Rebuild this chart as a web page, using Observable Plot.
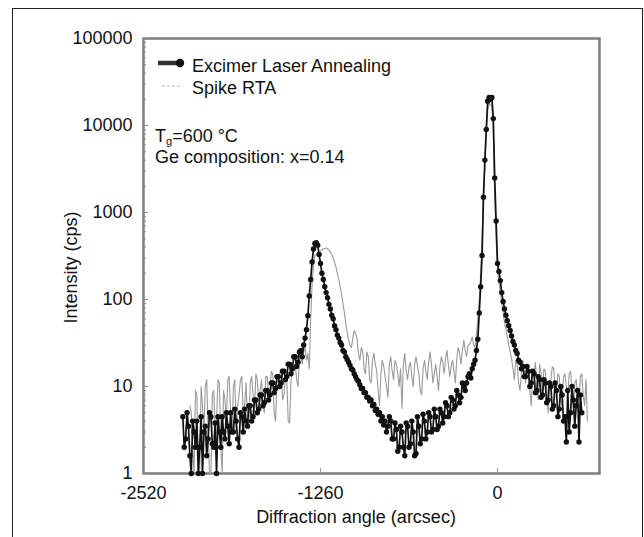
<!DOCTYPE html>
<html>
<head>
<meta charset="utf-8">
<script src="https://cdn.jsdelivr.net/npm/d3@7"></script>
<script src="https://cdn.jsdelivr.net/npm/@observablehq/plot@0.6"></script>
<style>
  html, body { margin: 0; padding: 0; background: #fff; }
  #wrap { position: relative; width: 644px; height: 537px; overflow: hidden; background: #fff; }
  #border { position: absolute; left: 12px; top: 8px; width: 629px; height: 600px;
            border: 1.5px solid #222; border-bottom: none; }
  #chart { position: absolute; left: 0; top: 0; }
</style>
</head>
<body>
<div id="wrap"><div id="border"></div><div id="chart"></div></div>
<script>
// ---- data (diffraction angle in arcsec, intensity in cps) ----
const angle = [
  -2240,-2230,-2220,-2210,-2200,-2190,-2180,-2170,-2160,-2150,-2140,-2130,-2120,-2110,-2100,-2090,-2080,-2070,-2060,-2050,
  -2040,-2030,-2020,-2010,-2000,-1990,-1980,-1970,-1960,-1950,-1940,-1930,-1920,-1910,-1900,-1890,-1880,-1870,-1860,-1850,
  -1840,-1830,-1820,-1810,-1800,-1790,-1780,-1770,-1760,-1750,-1740,-1730,-1720,-1710,-1700,-1690,-1680,-1670,-1660,-1650,
  -1640,-1630,-1620,-1610,-1600,-1590,-1580,-1570,-1560,-1550,-1540,-1530,-1520,-1510,-1500,-1490,-1480,-1470,-1460,-1450,
  -1440,-1430,-1420,-1410,-1400,-1390,-1380,-1370,-1360,-1350,-1340,-1330,-1320,-1310,-1300,-1290,-1280,-1270,-1260,-1250,
  -1240,-1230,-1220,-1210,-1200,-1190,-1180,-1170,-1160,-1150,-1140,-1130,-1120,-1110,-1100,-1090,-1080,-1070,-1060,-1050,
  -1040,-1030,-1020,-1010,-1000,-990,-980,-970,-960,-950,-940,-930,-920,-910,-900,-890,-880,-870,-860,-850,
  -840,-830,-820,-810,-800,-790,-780,-770,-760,-750,-740,-730,-720,-710,-700,-690,-680,-670,-660,-650,
  -640,-630,-620,-610,-600,-590,-580,-570,-560,-550,-540,-530,-520,-510,-500,-490,-480,-470,-460,-450,
  -440,-430,-420,-410,-400,-390,-380,-370,-360,-350,-340,-330,-320,-310,-300,-290,-280,-270,-260,-250,
  -240,-230,-220,-210,-200,-190,-180,-170,-160,-150,-140,-130,-120,-110,-100,-90,-80,-70,-60,-50,
  -40,-30,-20,-10,0,10,20,30,40,50,60,70,80,90,100,110,120,130,140,150,
  160,170,180,190,200,210,220,230,240,250,260,270,280,290,300,310,320,330,340,350,
  360,370,380,390,400,410,420,430,440,450,460,470,480,490,500,510,520,530,540,550,
  560,570,580,590,600,610,620,630,640
];
// Excimer Laser Annealing
const elaCps = [
  4.5,2,2.5,5,3.5,1.6,1,4,3,2,4,1,2,4.5,1,3,3.5,1.6,2.5,5,
  4.5,2.2,2,3.8,1,4.5,3,2,4.5,3,2.5,5,3.5,2.2,5,3,3,5.5,4,2.5,
  2,5,4.5,3,5.5,4,3.5,6,6,4,4.5,7,7,5,5.5,8,8,6,6.5,9,
  9,7,8,11,11,8.5,9.5,13,13,10,11,15,15,12,13,18,18,14,16,22,
  22,17,19,25,26,22,30,36,45,65,110,170,270,380,440,450,420,330,260,200,
  170,140,120,105,88,78,66,60,50,45,39,36,32,30,26,25,22,20.5,19,17.5,
  16,15.5,14,13,12,11.5,10.5,9.5,9.5,8.5,8.5,7.5,7.5,6.8,7,6,6.2,5.3,5.5,4.8,
  5,4,4.5,3.6,4,3,3.5,4.5,4,2.5,2.5,3.8,3.2,1.8,2,3.5,3,2,1.6,3.8,
  3.5,2,2.2,4,3,1.6,1.7,4.5,3.5,2.2,2.5,4.8,4,2.5,3,5,4.5,3,3.2,5.5,
  4.5,3.2,3.5,5.5,5,3.8,4.5,6.5,6,4.5,5,7.5,7,5.5,6,9,8,6.5,7.5,11,
  10,9,11,13,14,12.5,16,18,20,26,35,70,140,320,1500,4000,9000,19000,21000,20000,
  21000,12000,2500,800,260,210,165,120,95,78,66,57,50,44,38,33,30,26,24,20,
  19,16,17,13,13,17,15,10,11,15,14,8.5,9,13,12,7.5,8,12,11,6.5,
  7,11,10,5.5,6,11,9,4.5,5.5,10,8,4,4.5,2.3,9,3,5,10,7,3.5,
  6,9,2.3,8,5,null,null,null,null
];
// Spike RTA
const rtaCps = [
  null,null,null,null,null,6,5,2,1,9,8,1,1,10,6,3,10,12,3,1,
  1,8,9,3,4,12,11,2,1,9,7,4,12,13,5,3,10,12,3,6,
  8,12,13,5,6,11,4,3.5,11,13,8,5,14,12,7,9,12,6,5,13,
  13,8,9,15,14,5,4,12,11,14,16,7,8,13,12,4,3.8,12,14,17,
  18,12,10,20,22,18,25,28,20,24,16,60,150,250,320,330,340,345,360,370,
  380,385,390,385,370,350,330,300,270,235,200,170,140,115,90,70,52,42,34,30,
  28,36,44,40,36,24,20,28,26,16,14,25,22,12,11,20,24,18,15,9,
  6,14,20,17,13,10,7.5,18,22,15,12,20,18,14,10,16,5.6,18,24,15,
  12,17,19,13,10,18,22,17,14,9,8,16,20,15,12,19,25,18,11,14,
  18,13,9,17,22,19,14,21,26,18,13,17,20,15,11,21,28,24,18,26,
  34,26,22,30,30,33,37,30,28,40,60,100,200,500,1500,3500,8000,15000,18000,17000,
  17000,9000,1500,500,220,160,120,90,70,55,45,38,30,25,21,16,12,20,18,11,
  9,14,20,15,11,18,16,9,6,13,14,19,10,7,18,14,8,16,15,10,
  5,11,12,17,16,9,9,14,13,7,6,13,14,10,8,14,15,9,5,11,
  12,8,7,13,14,8,6,12,4
];
const seriesNames = ["Excimer Laser Annealing", "Spike RTA"];
const xTicks = [-2520, -1260, 0];
const yTicks = [1, 10, 100, 1000, 10000, 100000];
const yMinorTicks = [2,3,4,5,6,7,8,9,20,30,40,50,60,70,80,90,200,300,400,500,600,700,800,900,
  2000,3000,4000,5000,6000,7000,8000,9000,20000,30000,40000,50000,60000,70000,80000,90000];
const xLabel = "Diffraction angle (arcsec)";
const yLabel = "Intensity (cps)";
const noteLines = ["=600 °C", "Ge composition: x=0.14"];

const rows = angle.map((a, i) => ({angle: a, ela: elaCps[i], rta: rtaCps[i]}));

const FONT = "'Liberation Sans', Arial, Helvetica, sans-serif";
const W = 644, H = 537, ML = 143, MR = 45, MT = 38, MB = 64;

function annotations() {
  const g = d3.create("svg:g").attr("font-family", FONT).attr("font-size", 18)
    .attr("fill", "#111").attr("text-anchor", "start");
  // legend: ELA
  g.append("line").attr("x1", ML + 15).attr("x2", ML + 37).attr("y1", MT + 25).attr("y2", MT + 25)
    .attr("stroke", "#333").attr("stroke-width", 4.5);
  g.append("circle").attr("cx", ML + 37).attr("cy", MT + 25).attr("r", 4.2).attr("fill", "#111");
  g.append("text").attr("x", ML + 49).attr("y", MT + 34).text(seriesNames[0]);
  // legend: RTA
  g.append("line").attr("x1", ML + 19).attr("x2", ML + 39).attr("y1", MT + 48).attr("y2", MT + 48)
    .attr("stroke", "#b5b5b5").attr("stroke-width", 1.2).attr("stroke-dasharray", "3,2");
  g.append("text").attr("x", ML + 49).attr("y", MT + 56).text(seriesNames[1]);
  // notes
  const t = g.append("text").attr("x", ML + 12).attr("y", MT + 104);
  t.append("tspan").text("T");
  t.append("tspan").attr("font-size", 11).attr("dy", 3).text("g");
  t.append("tspan").attr("dy", -3).text(noteLines[0]);
  g.append("text").attr("x", ML + 12).attr("y", MT + 125).text(noteLines[1]);
  // axis titles
  g.append("text").attr("text-anchor", "middle")
    .attr("transform", `translate(${ML - 72},${(MT + H - MB) / 2 + 12}) rotate(-90)`)
    .attr("dy", "0.35em").text(yLabel);
  g.append("text").attr("text-anchor", "middle")
    .attr("x", (ML + W - MR) / 2 - 15).attr("y", H - MB + 50).text(xLabel);
  return g.node();
}

const chart = Plot.plot({
  width: W, height: H,
  marginLeft: ML, marginRight: MR, marginTop: MT, marginBottom: MB,
  style: {fontFamily: FONT, fontSize: "18px", color: "#111", background: "transparent", overflow: "visible"},
  x: {domain: [-2520, 726]},
  y: {type: "log", domain: [1, 100000]},
  marks: [
    Plot.frame({stroke: "#7d7d7d", strokeWidth: 2.5}),
    Plot.tickY(yMinorTicks, {y: d => d, insetRight: W - ML - MR - 3, stroke: "#8a8a8a", strokeWidth: 1}),
    Plot.tickY(yTicks, {y: d => d, insetRight: W - ML - MR - 5, stroke: "#8a8a8a", strokeWidth: 1}),
    Plot.tickX(xTicks.slice(1), {x: d => d, insetTop: H - MT - MB - 5, stroke: "#9a9a9a", strokeWidth: 1}),
    Plot.axisY({ticks: yTicks, tickSize: 0, tickPadding: 11, tickFormat: d => String(d), label: null, fontSize: 18}),
    Plot.axisX({ticks: xTicks, tickSize: 0, tickPadding: 13, tickFormat: d => String(d), label: null, fontSize: 18}),
    Plot.line(rows, {x: "angle", y: "rta", stroke: "#9a9a9a", strokeWidth: 1.1}),
    Plot.line(rows, {x: "angle", y: "ela", stroke: "#111", strokeWidth: 1.7}),
    Plot.dot(rows, {x: "angle", y: "ela", r: 2.7, fill: "#111", stroke: "none"}),
    annotations
  ]
});
document.getElementById("chart").appendChild(chart);
</script>
</body>
</html>
